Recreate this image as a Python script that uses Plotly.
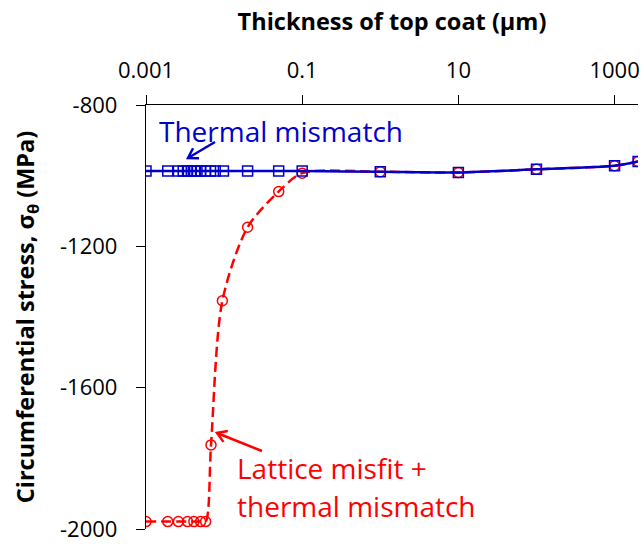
import math
import plotly.graph_objects as go

# ---- data ----
thermal_x = [0.001, 0.0019, 0.0026, 0.0030, 0.0034, 0.0038, 0.0042, 0.0045, 0.0050,
             0.0058, 0.0067, 0.0077, 0.0098, 0.02, 0.05, 0.1, 1, 10, 100, 1000, 2000]
thermal_y = [-987, -987, -987, -987, -987, -987, -987, -987, -987,
             -987, -987, -987, -987, -987, -987, -987, -989, -991, -982, -972, -960]

lattice_x = [0.001, 0.0019, 0.0026, 0.0034, 0.0041, 0.0050, 0.0058, 0.0068,
             0.0095, 0.02, 0.05, 0.1, 1, 10, 100, 1000, 2000]
lattice_y = [-1979, -1979, -1979, -1979, -1979, -1979, -1979, -1762,
             -1354, -1146, -1045, -993, -989, -991, -982, -972, -960]

x_tickvals = [0.001, 0.1, 10, 1000]
x_ticktext = ["0.001", "0.1", "10", "1000"]
y_tickvals = [-2000, -1600, -1200, -800]
y_ticktext = ["-2000", "-1600", "-1200", "-800"]

BLUE = "#0000CC"
RED = "#FF0000"
FONT = "Open Sans"

W, H = 644, 544
ML, MR, MT, MB = 146, 6, 105, 15
PW, PH = W - ML - MR, H - MT - MB


def to_paper(px, py):
    return (px - ML) / PW, (H - MB - py) / PH


def arrow_shapes(tail, head, color, arm=11, ang=32):
    tx, ty = tail
    hx, hy = head
    d = math.atan2(ty - hy, tx - hx)
    a1 = d + math.radians(ang)
    a2 = d - math.radians(ang)
    p1 = (hx + arm * math.cos(a1), hy + arm * math.sin(a1))
    p2 = (hx + arm * math.cos(a2), hy + arm * math.sin(a2))
    pts = [to_paper(*p) for p in (p1, head, p2)]
    t0 = to_paper(*tail)
    h0 = to_paper(*head)
    line = dict(type="line", xref="paper", yref="paper",
                x0=t0[0], y0=t0[1], x1=h0[0], y1=h0[1],
                line=dict(color=color, width=2.5))
    path = "M {} {} L {} {} L {} {}".format(pts[0][0], pts[0][1], pts[1][0], pts[1][1],
                                            pts[2][0], pts[2][1])
    chev = dict(type="path", xref="paper", yref="paper", path=path,
                line=dict(color=color, width=2.5))
    return [line, chev]


fig = go.Figure()
fig.add_trace(go.Scatter(
    x=lattice_x, y=lattice_y, mode="lines+markers",
    line=dict(color=RED, width=2.5, dash="10px,5px", shape="spline", smoothing=0.8),
    marker=dict(symbol="circle-open", size=10, color=RED, line=dict(width=1.5)),
    showlegend=False,
))
fig.add_trace(go.Scatter(
    x=thermal_x, y=thermal_y, mode="lines+markers",
    line=dict(color=BLUE, width=2.5, shape="spline", smoothing=0.8),
    marker=dict(symbol="square-open", size=10, color=BLUE, line=dict(width=1.5)),
    showlegend=False,
))

shapes = arrow_shapes((215, 142), (188, 158), BLUE) + arrow_shapes((262, 451), (217, 433), RED)

fig.update_layout(
    width=W, height=H,
    margin=dict(l=ML, r=MR, t=MT, b=MB),
    paper_bgcolor="white", plot_bgcolor="white",
    font=dict(family=FONT, color="black"),
    xaxis=dict(
        type="log", side="top", range=[-3, 3.3],
        tickvals=x_tickvals, ticktext=x_ticktext,
        showgrid=False, zeroline=False,
        showline=True, linecolor="black", linewidth=1.3,
        ticks="outside", ticklen=9, tickwidth=1.3, tickcolor="black",
        tickfont=dict(size=22, family=FONT), ticklabelstandoff=8,
        title=dict(text="<b>Thickness of top coat (μm)</b>",
                   font=dict(size=23.5, family=FONT), standoff=16),
        automargin=False,
    ),
    yaxis=dict(
        range=[-2000, -800], tickvals=y_tickvals, ticktext=y_ticktext,
        showgrid=False, zeroline=False,
        showline=True, linecolor="black", linewidth=1.3,
        ticks="outside", ticklen=9, tickwidth=1.3, tickcolor="black",
        tickfont=dict(size=22, family=FONT), ticklabelstandoff=14,
        ticklabeloverflow="allow",
        title=dict(text="<b>Circumferential stress, σ<sub>θ</sub> (MPa)</b>",
                   font=dict(size=23.5, family=FONT), standoff=18),
        automargin=False,
    ),
    shapes=shapes,
    annotations=[
        dict(xref="paper", yref="paper", x=0.022, y=0.939, xanchor="left", yanchor="middle",
             text="Thermal mismatch", showarrow=False,
             font=dict(size=28, color=BLUE, family=FONT)),
        dict(xref="paper", yref="paper", x=0.181, y=0.143, xanchor="left", yanchor="middle",
             text="Lattice misfit +", showarrow=False,
             font=dict(size=28, color=RED, family=FONT)),
        dict(xref="paper", yref="paper", x=0.181, y=0.055, xanchor="left", yanchor="middle",
             text="thermal mismatch", showarrow=False,
             font=dict(size=28, color=RED, family=FONT)),
    ],
)

fig.write_html("out.html")
